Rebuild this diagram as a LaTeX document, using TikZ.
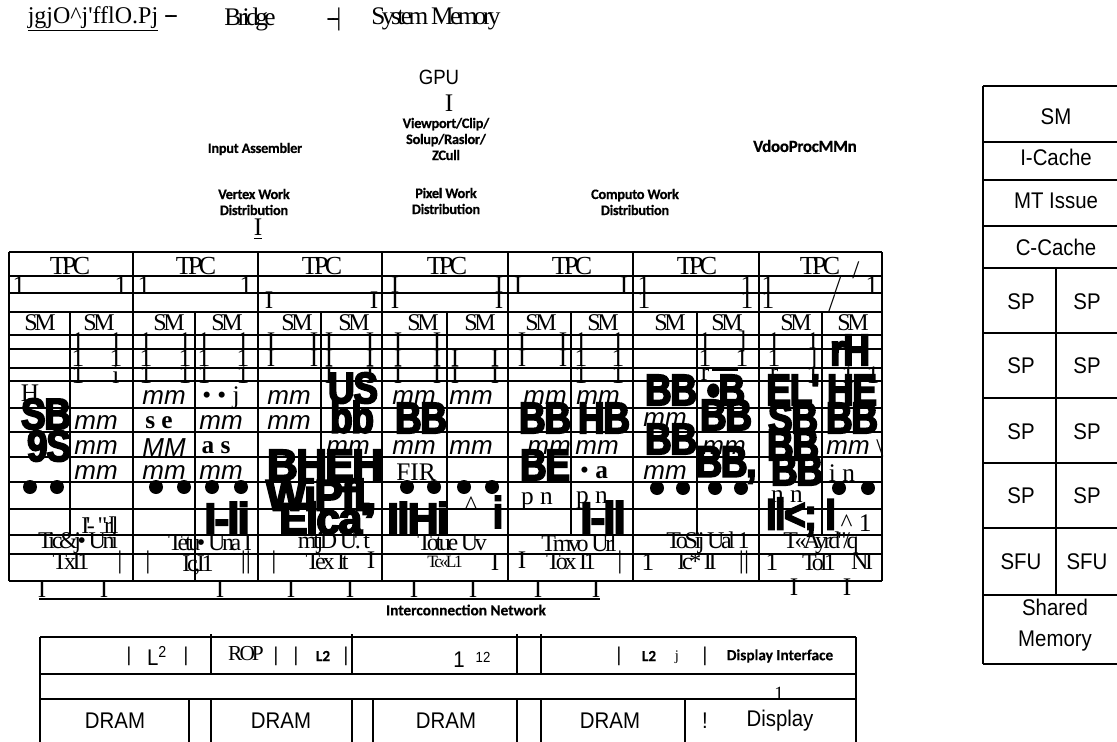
\documentclass[tikz,border=0pt]{standalone}
\usepackage{fontspec}
\setmainfont{Liberation Serif}
\setsansfont[FakeStretch=0.9]{Liberation Sans}
\newfontfamily\tightf[LetterSpace=-14,Ligatures=NoCommon]{Liberation Serif}
\newfontfamily\blobf[FakeBold=4,FakeStretch=0.84,LetterSpace=-3]{Liberation Sans Bold}
\newfontfamily\lblf[LetterSpace=-2,FakeBold=0.4]{Carlito Bold}
\newfontfamily\wlblf[FakeBold=0.4]{Carlito Bold}
\newfontfamily\mmf{Liberation Sans Italic}
\newcommand{\wide}[1]{\scalebox{1.15}[1]{#1}}
\tikzset{
  lbl/.style={inner sep=0pt,align=center,font=\lblf\fontsize{10.8}{12}\selectfont},
  wlbl/.style={inner sep=0pt,font=\wlblf\fontsize{11.5}{12}\selectfont},
  ttl/.style={inner sep=0pt,font=\tightf\fontsize{19}{20}\selectfont},
  tpc/.style={inner sep=0pt,font=\tightf\fontsize{19.5}{20}\selectfont},
  sm/.style={inner sep=0pt,font=\tightf\fontsize{18}{18}\selectfont},
  bar/.style={inner sep=0pt,font=\rmfamily\fontsize{19}{20}\selectfont},
  mm/.style={inner sep=0pt,font=\mmf\fontsize{19.5}{20}\selectfont},
  blob/.style={inner sep=0pt,font=\blobf\fontsize{33}{34}\selectfont},
  dotb/.style={circle,fill=black,inner sep=0pt,minimum size=10.5pt},
  plain/.style={inner sep=0pt,font=\sffamily\fontsize{17}{23}\selectfont,align=center},
  line/.style={line width=0.9pt},
}
\begin{document}
\begin{tikzpicture}[x=0.75pt,y=-0.75pt]
  \useasboundingbox (0,0) rectangle (1117,742);
  % top row
  \node[inner sep=0pt,font=\rmfamily\fontsize{18}{20}\selectfont] (host) at (93,19) {\underline{jgjO\textasciicircum j\textquotesingle fflO.Pj}};
  \node[ttl] (d1) at (171,19) {--};
  \node[ttl] (bridge) at (250,19) {Bridge};
  \node[ttl] (d2) at (334,19) {--|};
  \node[ttl] (sysmem) at (436,19) {System Memory};
  \node[plain,font=\sffamily\fontsize{15.5}{16}\selectfont] (gpu) at (439,77) {GPU};
  \node[bar] (gpubar) at (449,103) {I};
  \node[lbl] (vpc) at (446,139) {Viewport/Clip/\\Solup/Raslor/\\ZCull};
  \node[lbl] (ia) at (255,149) {Input Assembler};
  \node[lbl] (vwd) at (254,202) {Vertex Work\\Distribution};
  \node[bar] (vbar) at (258,229) {\underline{I}};
  \node[lbl] (pwd) at (446,201) {Pixel Work\\Distribution};
  \node[lbl] (cwd) at (635,202) {Computo Work\\Distribution};
  \node[lbl,font=\lblf\fontsize{12.8}{14}\selectfont] (vpm) at (805,146) {VdooProcMMn};
  % TPC grid
  \foreach \y in {252,276,293,312,335,349,368,381,408,432,457,482,509,535,554,581}
    \draw[line] (9,\y) -- (882,\y);
  \foreach \x in {9,133,258,382,508,633,759,882}
    \draw[line] (\x,252) -- (\x,581);
  \foreach \x in {70,195,321,447,571,697,822}
    \draw[line] (\x,312) -- (\x,535);
  \draw[line] (195,535) -- (195,581);
  \foreach \x/\t [count=\n] in {70/TPC,196/TPC,322/TPC,447/TPC,572/TPC,697/TPC,820/TPC}
    \node[tpc] (tpc\n) at (\x,266) {\t};
  \foreach \x [count=\n] in {40,99,169,227,297,354,423,480,541,603,670,727,796,853}
    \node[sm] (sm\n) at (\x,323) {SM};
  % bars
  \foreach \x/\y/\t [count=\n] in {
    19/285/1,121/285/1,144/285/1,246/285/1,395/285/I,499/285/I,518/285/I,624/285/I,644/285/1,747/285/1,768/285/1,872/285/1,
    269/300/I,374/300/I,395/300/I,499/300/I,644/300/1,747/300/1,768/300/1,
    78/341/1,116/341/1,146/341/1,185/341/1,204/341/1,243/341/1,271/341/I,314/341/I,329/341/I,370/341/I,398/341/I,437/341/I,522/341/I,563/341/I,581/341/1,618/341/1,705/341/1,742/341/],774/341/1,813/341/1,
    78/358/1,116/358/1,146/358/1,185/358/1,204/358/1,243/358/1,271/358/I,314/358/I,329/358/I,370/358/I,398/358/I,437/358/I,455/358/I,495/358/I,522/358/I,563/358/I,581/358/1,618/358/1,705/358/1,742/358/1,774/358/1,813/358/],
    78/375/1,116/375/i,146/375/1,185/375/1,204/375/1,243/375/1,329/375/I,370/375/I,398/375/I,437/375/I,455/375/I,495/375/I,581/375/1,618/375/1,705/375/r,774/375/r,813/375/1,848/375/1,873/375/1,
    856/270/{/},838/285/{/},832/303/{/},
    42/589/I,104/589/I,220/589/I,291/589/I,350/589/I,414/589/I,473/589/I,538/589/I,596/589/I,794/587/I,847/587/I,
    120/562/|,148/562/|,246/562/||,274/562/|,371/560/I,495/562/I,522/560/I,620/562/|,648/562/1,744/562/||,772/562/1}
    \node[bar] (bar\n) at (\x,\y) {\t};
  \coordinate (dsa) at (210,368);
  \coordinate (dsb) at (237,368);
  \coordinate (dsc) at (712,370);
  \coordinate (dsd) at (738,370);
  \draw[line width=1.8pt] (dsa) -- (dsb);
  \draw[line width=1.4pt] (dsc) -- (dsd);
  % cell text
  \foreach \x/\y/\t [count=\n] in {
    164/398/mm,289/398/mm,414/398/mm,471/398/mm,545/398/mm,598/398/mm,
    96/423/mm,221/423/mm,289/423/mm,665/420/mm,
    96/448/mm,164/448/MM,348/448/mm,414/448/mm,471/448/mm,549/448/mm,597/448/mm,724/448/mm,848/448/mm,
    96/473/mm,164/473/mm,221/473/mm,665/473/mm}
    \node[mm] (cell\n) at (\x,\y) {\t};
  % black blobs
  \foreach \x/\y/\t [count=\n] in {
    46/414/SB,49/446/9S,353/388/US,352/417/bb,421/418/BB,545/418/BB,604/418/HB,671/390/BB,726/390/•B,793/390/EL',852/390/HE,
    726/415/BB,793/418/SB,852/418/BB,671/439/BB,545/465/BE,726/465/{BB,},793/445/BB,797/470/BB,850/350/rH,
    325/465/\wide{BHEH},321/498/{\wide{WiPfl,}},227/518/\wide{I-li},325/518/\wide{Elca'},418/518/\wide{IlHi},498/512/i,603/517/\wide{I-ll},801/517/{Il<; I}}
    \node[blob] (blk\n) at (\x,\y) {\t};
  % dots
  \foreach \x/\y [count=\n] in {30/487,57/487,156/487,184/487,212/487,241/487,407/487,434/487,464/487,492/487,657/488,683/488,715/488,741/488,839/488,868/488}
    \node[dotb] (dot\n) at (\x,\y) {};
  % loose glyphs
  \foreach \x/\y/\t [count=\n] in {
    30/393/H,221/398/{• • j},159/423/{\textbf{s  e}},216/448/{\textbf{a  s}},416/472/FIR,594/473/{• \textbf{a}},842/473/{i  n},537/501/{p  n},592/500/{p  n},787/497/{n  n},856/523/{\textasciicircum\ 1},880/448/\textbackslash,471/505/\textasciicircum}
    \node[bar] (txt\n) at (\x,\y) {\t};
  \foreach \x/\y/\t [count=\n] in {
    100/525/{I'-  "rll},78/543/{Tic\&j•  Uni},210/543/{Tetu•  Una I},334/543/{mtjD  U'. t},452/543/{Totue Uv},579/543/{Tmvo Url},708/543/{ToSij Ual 1},821/543/{T«Ayrd"/q},
    71/562/TxI1,198/565/{Ic,I1},327/562/{Tex It},571/562/{Tox I1},697/562/{Ic* II},819/562/Tol1,862/562/NI}
    \node[sm] (tex\n) at (\x,\y) {\t};
  \node[sm,font=\tightf\fontsize{13}{14}\selectfont] (texs) at (445,562) {Tc«L1};
  % interconnect
  \coordinate (busl) at (39,599);
  \coordinate (busr) at (600,599);
  \draw[line width=1.6pt] (busl) -- (busr);
  \node[wlbl] (icn) at (466,610) {Interconnection Network};
  % memory partitions
  \foreach \y in {637,674,699}
    \draw[line] (40,\y) -- (856,\y);
  \foreach \x in {40,856}
    \draw[line] (\x,637) -- (\x,742);
  \foreach \x in {211,352,517,541}
    \draw[line] (\x,634) -- (\x,674);
  \foreach \x in {189,211,352,373,517,541,685}
    \draw[line] (\x,699) -- (\x,742);
  \foreach \x/\t [count=\n] in {115/DRAM,281/DRAM,446/DRAM,610/DRAM,705/!,780/Display}
    \node[plain] (dram\n) at (\x,721) {\t};
  \foreach \x [count=\n] in {129,186,276,296,346,619,705}
    \node[plain,font=\sffamily\fontsize{15}{16}\selectfont] (sep\n) at (\x,656) {|};
  \node[plain] (ltwo) at (157,656) {L\textsuperscript{2}};
  \node[tpc,font=\tightf\fontsize{16}{16}\selectfont] (rop) at (246,654) {ROP};
  \node[wlbl] (ltwob) at (323,656) {L2};
  \node[plain] (lone) at (459,660) {1};
  \node[plain,font=\sffamily\fontsize{11}{12}\selectfont] (ltwoc) at (483,657) {12};
  \node[wlbl] (ltwod) at (649,656) {L2};
  \node[inner sep=0pt,font=\rmfamily\fontsize{11}{12}\selectfont] (jj) at (677,657) {j};
  \node[wlbl] (dif) at (780,656) {Display Interface};
  \node[inner sep=0pt,font=\rmfamily\fontsize{14}{14}\selectfont] (lone2) at (779,693) {1};
  % streaming multiprocessor
  \foreach \y in {86,142,180,226,268,333,398,463,528,595,664}
    \draw[line] (983,\y) -- (1117,\y);
  \draw[line] (983,86) -- (983,664);
  \draw[line] (1056,268) -- (1056,595);
  \foreach \y/\t [count=\n] in {117/SM,157/I-Cache,201/MT Issue,247/C-Cache}
    \node[plain] (unit\n) at (1056,\y) {\t};
  \foreach \y/\t [count=\n] in {302/SP,366/SP,432/SP,496/SP,562/SFU} {
    \node[plain] (pl\n) at (1021,\y) {\t};
    \node[plain] (pr\n) at (1087,\y) {\t};
  }
  \node[plain] (shm) at (1055,625) {Shared\\Memory};
\end{tikzpicture}
\end{document}
